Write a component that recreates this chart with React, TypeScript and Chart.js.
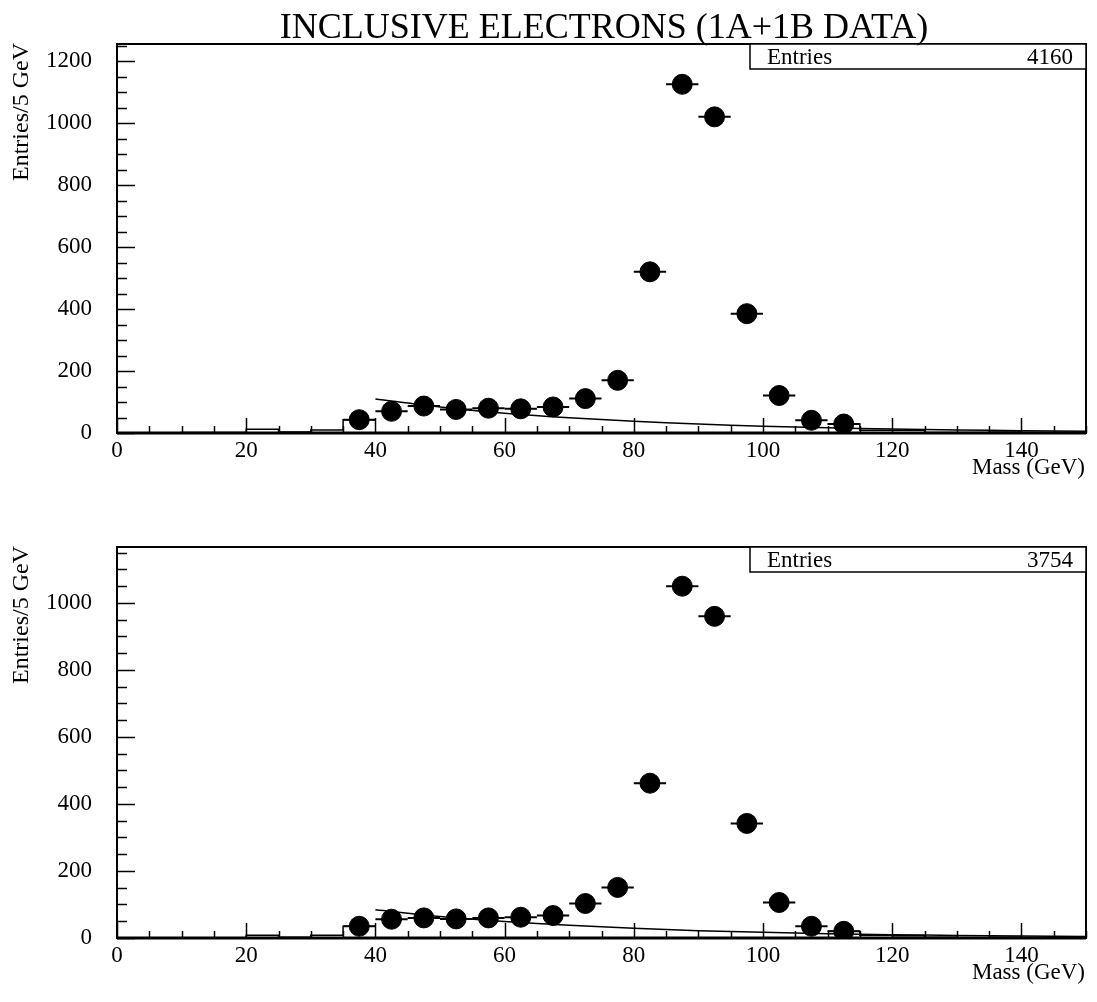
import React, { useEffect, useRef } from "react";
import { Chart, registerables } from "chart.js";

Chart.register(...registerables);

const TITLE = "INCLUSIVE ELECTRONS (1A+1B DATA)";
const X_TITLE = "Mass (GeV)";
const Y_TITLE = "Entries/5 GeV";
const STAT_LABEL = "Entries";

// bin centres of the data points (5 GeV bins)
const binCenters = [37.5, 42.5, 47.5, 52.5, 57.5, 62.5, 67.5, 72.5, 77.5, 82.5, 87.5, 92.5, 97.5, 102.5, 107.5, 112.5];
const topValues = [43, 70, 87, 76, 80, 78, 84, 111, 170, 520, 1125, 1020, 385, 121, 41, 29];
const bottomValues = [35, 56, 60, 57, 60, 62, 67, 103, 151, 462, 1050, 960, 342, 106, 35, 20];

const topEntries = 4160;
const bottomEntries = 3754;

// histogram outline (bins of 5 GeV from 0 to 150); null where a data point is drawn
const histLowEdges = [0, 5, 10, 15, 20, 25, 30, 35, 40, 45, 50, 55, 60, 65, 70, 75, 80, 85, 90, 95, 100, 105, 110, 115, 120, 125, 130, 135, 140, 145];
const topHist = [0, 0, 2, 2, 12, 3, 10, 43, null, null, null, null, null, null, null, null, null, null, null, null, null, null, 29, 9, 9, 2, 2, 3, 2, 2];
const bottomHist = [0, 0, 1, 1, 8, 2, 8, 35, null, null, null, null, null, null, null, null, null, null, null, null, null, null, 20, 8, 7, 2, 1, 2, 1, 1];

// background fit curve
const fitMass = [40, 50, 60, 70, 80, 90, 100, 110, 120, 130, 140, 150];
const topFit = [110, 84, 64, 49, 38, 29, 22, 17, 13, 10, 7.5, 6];
const bottomFit = [84, 64, 49, 38, 29, 22, 17, 13, 10, 7.5, 6, 4.5];

// tick labels
const xTicks = [0, 20, 40, 60, 80, 100, 120, 140];
const topYTicks = [0, 200, 400, 600, 800, 1000, 1200];
const bottomYTicks = [0, 200, 400, 600, 800, 1000];

// axis settings
const X_MIN = 0;
const X_MAX = 150;
const X_STEP = 20;
const X_MINOR = 5;
const Y_STEP = 200;
const Y_MINOR = 50;
const TOP_Y_MAX = 1255;
const BOTTOM_Y_MAX = 1167;
const BIN_WIDTH = 5;

const FONT = '"Liberation Serif", "Times New Roman", serif';

function histPoints(values: (number | null)[]) {
  const pts: { x: number; y: number | null }[] = [];
  values.forEach((v, i) => {
    const lo = histLowEdges[i];
    const hi = lo + BIN_WIDTH;
    if (v === null) {
      pts.push({ x: lo, y: null });
    } else {
      pts.push({ x: lo, y: v });
      pts.push({ x: hi, y: v });
    }
  });
  return pts;
}

function makeDecor(entries: number, showTitle: boolean) {
  return {
    id: "decor",
    beforeDatasetsDraw(chart: any) {
      const ctx = chart.ctx;
      const xs = chart.scales.x;
      const ys = chart.scales.y;
      const ds = chart.data.datasets[0].data as { x: number; y: number }[];
      ctx.save();
      ctx.strokeStyle = "#000";
      ctx.lineWidth = 2;
      ds.forEach((p) => {
        const y = ys.getPixelForValue(p.y);
        ctx.beginPath();
        ctx.moveTo(xs.getPixelForValue(p.x - BIN_WIDTH / 2), y);
        ctx.lineTo(xs.getPixelForValue(p.x + BIN_WIDTH / 2), y);
        ctx.stroke();
      });
      ctx.restore();
    },
    afterDraw(chart: any) {
      const ctx = chart.ctx;
      const a = chart.chartArea;
      const xs = chart.scales.x;
      const ys = chart.scales.y;
      ctx.save();
      ctx.strokeStyle = "#000";
      ctx.fillStyle = "#000";
      // inward ticks
      ctx.lineWidth = 1.5;
      for (let v = X_MIN; v <= X_MAX + 0.01; v += X_MINOR) {
        const px = Math.round(xs.getPixelForValue(v)) + 0.5;
        const len = v % X_STEP === 0 ? 15 : 7;
        ctx.beginPath();
        ctx.moveTo(px, a.bottom);
        ctx.lineTo(px, a.bottom - len);
        ctx.stroke();
      }
      for (let v = 0; v <= ys.max + 0.01; v += Y_MINOR) {
        const py = Math.round(ys.getPixelForValue(v)) + 0.5;
        const len = v % Y_STEP === 0 ? 18 : 10;
        ctx.beginPath();
        ctx.moveTo(a.left, py);
        ctx.lineTo(a.left + len, py);
        ctx.stroke();
      }
      // frame
      ctx.lineWidth = 2;
      ctx.strokeRect(a.left, a.top, a.right - a.left, a.bottom - a.top);
      ctx.lineWidth = 3;
      ctx.beginPath();
      ctx.moveTo(a.left, a.bottom);
      ctx.lineTo(a.right, a.bottom);
      ctx.stroke();

      // stats box
      const bx = 750;
      const bh = 25;
      ctx.lineWidth = 1.5;
      ctx.fillStyle = "#fff";
      ctx.fillRect(bx, a.top, a.right - bx, bh);
      ctx.fillStyle = "#000";
      ctx.strokeRect(bx, a.top, a.right - bx, bh);
      ctx.font = `23px ${FONT}`;
      ctx.textBaseline = "middle";
      ctx.textAlign = "left";
      ctx.fillText(STAT_LABEL, bx + 17, a.top + bh / 2 + 1);
      ctx.textAlign = "right";
      ctx.fillText(String(entries), a.right - 13, a.top + bh / 2 + 1);

      // y title
      ctx.save();
      ctx.translate(22, a.top - 1);
      ctx.rotate(-Math.PI / 2);
      ctx.textAlign = "right";
      ctx.textBaseline = "middle";
      ctx.font = `24px ${FONT}`;
      ctx.fillText(Y_TITLE, 0, 0);
      ctx.restore();

      // x title
      ctx.textAlign = "right";
      ctx.textBaseline = "middle";
      ctx.font = `23px ${FONT}`;
      ctx.fillText(X_TITLE, a.right - 1, a.bottom + 35);

      if (showTitle) {
        ctx.textAlign = "center";
        ctx.textBaseline = "alphabetic";
        ctx.font = `36px ${FONT}`;
        ctx.fillText(TITLE, 604, 38);
      }
      ctx.restore();
    },
  };
}

function Panel(props: {
  values: number[];
  hist: (number | null)[];
  fit: number[];
  yTicks: number[];
  entries: number;
  yMax: number;
  showTitle: boolean;
  height: number;
  padTop: number;
  xAxisHeight: number;
}) {
  const ref = useRef<HTMLCanvasElement | null>(null);
  useEffect(() => {
    if (!ref.current) return;
    const chart = new Chart(ref.current, {
      type: "scatter",
      data: {
        datasets: [
          {
            label: "data",
            data: binCenters.map((x, i) => ({ x, y: props.values[i] })),
            backgroundColor: "#000",
            borderColor: "#000",
            pointRadius: 10,
            pointHoverRadius: 10,
            showLine: false,
            order: 0,
          },
          {
            label: "fit",
            data: fitMass.map((x, i) => ({ x, y: props.fit[i] })),
            borderColor: "#000",
            borderWidth: 1.5,
            pointRadius: 0,
            showLine: true,
            tension: 0.3,
            order: 1,
          },
          {
            label: "hist",
            data: histPoints(props.hist) as any,
            borderColor: "#000",
            borderWidth: 1.5,
            pointRadius: 0,
            showLine: true,
            spanGaps: false,
            order: 2,
          },
        ],
      },
      options: {
        animation: false,
        responsive: false,
        maintainAspectRatio: false,
        layout: { padding: { left: 0, right: 4, top: props.padTop, bottom: 0 } },
        plugins: { legend: { display: false }, tooltip: { enabled: false }, title: { display: false } },
        scales: {
          x: {
            type: "linear",
            min: X_MIN,
            max: X_MAX,
            grid: { display: false, drawTicks: false },
            border: { display: false },
            afterBuildTicks: (s: any) => {
              s.ticks = xTicks.map((v) => ({ value: v }));
            },
            ticks: {
              padding: 4,
              color: "#000",
              font: { family: FONT, size: 23 },
              maxRotation: 0,
              autoSkip: false,
              callback: (v: any) => String(v),
            },
            afterFit: (s: any) => {
              s.height = props.xAxisHeight;
            },
          },
          y: {
            type: "linear",
            min: 0,
            max: props.yMax,
            grid: { display: false, drawTicks: false },
            border: { display: false },
            afterBuildTicks: (s: any) => {
              s.ticks = props.yTicks.map((v) => ({ value: v }));
            },
            ticks: {
              padding: 25,
              color: "#000",
              autoSkip: false,
              font: { family: FONT, size: 23 },
              callback: (v: any) => String(v),
            },
            afterFit: (s: any) => {
              s.width = 117;
            },
          },
        },
      },
      plugins: [makeDecor(props.entries, props.showTitle)],
    } as any);
    return () => chart.destroy();
  }, []);
  return <canvas ref={ref} width={1097} height={props.height} style={{ display: "block" }} />;
}

export default function App() {
  return (
    <div style={{ position: "absolute", left: 0, top: 0, width: 1097, height: 1002, background: "#fff" }}>
      <Panel values={topValues} hist={topHist} fit={topFit} yTicks={topYTicks} entries={topEntries} yMax={TOP_Y_MAX} showTitle={true} height={500} padTop={44} xAxisHeight={67} />
      <Panel values={bottomValues} hist={bottomHist} fit={bottomFit} yTicks={bottomYTicks} entries={bottomEntries} yMax={BOTTOM_Y_MAX} showTitle={false} height={502} padTop={47} xAxisHeight={64} />
    </div>
  );
}
